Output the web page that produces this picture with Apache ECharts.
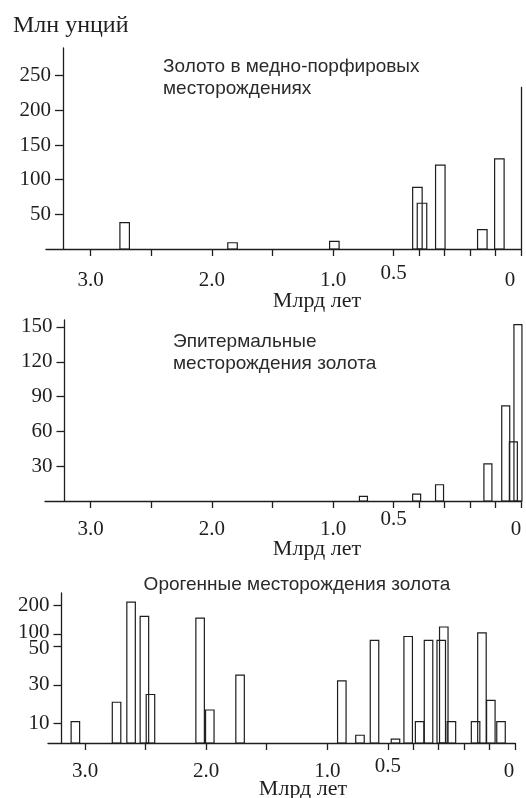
<!DOCTYPE html>
<html>
<head>
<meta charset="utf-8">
<script src="https://cdn.jsdelivr.net/npm/echarts@6/dist/echarts.min.js"></script>
<style>
  html, body { margin: 0; padding: 0; background: #fff; }
  #chart { width: 526px; height: 798px; }
</style>
</head>
<body>
<div id="chart"></div>
<script>
// Gold in porphyry copper deposits: age (Ga) and endowment (Moz)
const porphyryAges = [2.72, 1.83, 0.99, 0.407, 0.389, 0.317, 0.152, 0.085];
const porphyryMoz  = [38, 9, 11, 89, 66, 121, 28, 130];

// Epithermal gold deposits
const epithermalAges = [0.75, 0.41, 0.32, 0.13, 0.06, 0.03, 0.012];
const epithermalMoz  = [4, 6, 14, 32, 82, 51, 152];

// Orogenic gold deposits
const orogenicAges = [3.08, 2.74, 2.62, 2.51, 2.46, 2.05, 1.97, 1.72, 0.88, 0.73, 0.61,
                      0.47, 0.42, 0.375, 0.34, 0.29, 0.28, 0.25, 0.155, 0.13, 0.095, 0.055];
const orogenicMoz  = [11, 21, 210, 162, 25, 156, 17, 35, 32, 4, 75,
                      2, 92, 11, 75, 75, 126, 11, 11, 106, 22, 11];

// Axis ticks and labels
const ageTicks = [3.0, 2.5, 2.0, 1.5, 1.0, 0.5, 0.4, 0.3, 0.2, 0.1, 0];
const ageLabels = [3.0, 2.0, 1.0, 0];
const ageLabelsRaised = [0.5];
const porphyryTicks = [50, 100, 150, 200, 250];
const epithermalTicks = [30, 60, 90, 120, 150];
const orogenicTicks = [10, 30, 50, 100, 200];

const titles = [
  'Золото в медно-порфировых\nместорождениях',
  'Эпитермальные\nместорождения золота',
  'Орогенные месторождения золота'
];
const unitY = 'Млн унций';
const unitX = 'Млрд лет';

// The age axis is stretched for the last 0.5 Ga
const YOUNG = 2.1;
function ageToAxis(t) { return t <= 0.5 ? t * YOUNG : t - 0.5 + 0.5 * YOUNG; }
function axisToAge(d) { const b = 0.5 * YOUNG; return d <= b ? d / YOUNG : d - b + 0.5; }

// Orogenic panel: linear up to 50 Moz, compressed above
function ozToAxis(v) {
  if (v <= 50) return v;
  if (v <= 100) return 50 + (v - 50) * 0.116;
  return 55.8 + (v - 100) * 0.153;
}
function axisToOz(d) {
  if (d <= 50) return d;
  if (d <= 55.8) return 50 + (d - 50) / 0.116;
  return 100 + (d - 55.8) / 0.153;
}

const INK = '#1e1e1e';
const serif = "'Liberation Serif', 'Times New Roman', serif";
const sans = "'Liberation Sans', Arial, sans-serif";

function ageText(v) {
  const t = Math.round(axisToAge(v) * 10) / 10;
  return t === 0 ? '{z|0}' : '{n|' + t.toFixed(1) + '}';
}

const grids = [
  { left: 46, top: 48, width: 475, height: 201, outerBoundsMode: 'none' },
  { left: 45, top: 320, width: 476, height: 181, outerBoundsMode: 'none' },
  { left: 48, top: 593, width: 467, height: 150, outerBoundsMode: 'none' }
];
const xMax = [3.919, 3.927, 3.856];
const zeroShift = [22, 10, 12];
const labelMargin = [21, 18, 18];
const raisedMargin = [14, 8, 13];
const nameGap = [41, 37, 35];
const namePad = [67, 68, 43];
const yOffset = [-17, -19.5, -13.5];

const xAxes = [];
grids.forEach((g, i) => {
  xAxes.push({
    gridIndex: i, type: 'value', inverse: true, min: 0, max: xMax[i],
    axisLine: { show: true, onZero: false, lineStyle: { color: INK, width: 1.3 } },
    axisTick: { show: true, length: 7, customValues: ageTicks.map(ageToAxis),
                lineStyle: { color: INK, width: 1.3 } },
    axisLabel: {
      customValues: ageLabels.map(ageToAxis), margin: labelMargin[i],
      formatter: ageText,
      rich: {
        n: { fontFamily: serif, fontSize: 21, color: INK },
        z: { fontFamily: serif, fontSize: 21, color: INK, padding: [0, zeroShift[i], 0, 0] }
      }
    },
    splitLine: { show: false },
    name: unitX, nameLocation: 'middle', nameGap: nameGap[i], nameMoveOverlap: false,
    nameTextStyle: { fontFamily: serif, fontSize: 22, color: INK, padding: [0, 0, 0, namePad[i]] }
  });
  xAxes.push({
    gridIndex: i, type: 'value', inverse: true, min: 0, max: xMax[i], position: 'bottom',
    axisLine: { show: false, onZero: false }, axisTick: { show: false },
    axisLabel: {
      customValues: ageLabelsRaised.map(ageToAxis), margin: raisedMargin[i],
      formatter: v => (Math.round(axisToAge(v) * 10) / 10).toFixed(1),
      fontFamily: serif, fontSize: 21, color: INK
    },
    splitLine: { show: false }
  });
});

// Neighbouring 100 and 50 labels on the orogenic axis are nudged apart
function ozLabel(v) {
  const oz = Math.round(axisToOz(v));
  if (oz === 100) return '{up|100}';
  if (oz === 50) return '{dn|50}';
  return '{n|' + oz + '}';
}

const yTicks = [porphyryTicks, epithermalTicks, orogenicTicks.map(ozToAxis)];
const yMax = [290, 156, 77.3];
const yAxes = grids.map((g, i) => ({
  gridIndex: i, type: 'value', min: 0, max: yMax[i], offset: yOffset[i],
  axisLine: { show: true, onZero: false, lineStyle: { color: INK, width: 1.3 } },
  axisTick: { show: true, length: 8, customValues: yTicks[i], lineStyle: { color: INK, width: 1.3 } },
  axisLabel: {
    customValues: yTicks[i], margin: 12,
    formatter: v => i === 2 ? ozLabel(v) : String(v),
    fontFamily: serif, fontSize: 21, color: INK,
    rich: {
      n: { fontFamily: serif, fontSize: 21, color: INK },
      up: { fontFamily: serif, fontSize: 21, color: INK, padding: [0, 0, 5, 0] },
      dn: { fontFamily: serif, fontSize: 21, color: INK, padding: [6, 0, 0, 0] }
    }
  },
  splitLine: { show: false }
}));

const barWidth = [9.5, 8, 8.5];
function barSeries(i, ages, moz, yMap) {
  return {
    type: 'custom', xAxisIndex: i * 2, yAxisIndex: i,
    data: ages.map((t, k) => [ageToAxis(t), yMap(moz[k])]),
    renderItem: (params, api) => {
      const x = api.value(0), v = api.value(1);
      const base = api.coord([x, 0]);
      const top = api.coord([x, v]);
      const w = barWidth[i];
      return {
        type: 'rect',
        shape: { x: base[0] - w / 2, y: top[1], width: w, height: base[1] - top[1] },
        style: { fill: 'none', stroke: INK, lineWidth: 1.2 }
      };
    }
  };
}

const s0 = barSeries(0, porphyryAges, porphyryMoz, v => v);
s0.markLine = {
  silent: true, symbol: 'none', animation: false, label: { show: false },
  lineStyle: { color: INK, width: 1.3, type: 'solid' },
  data: [[{ coord: [0, 0] }, { coord: [0, 234] }]]
};

const titleStyle = { fontFamily: sans, fontSize: 19, lineHeight: 22, fontWeight: 'normal', color: '#2a2a2a' };
const option = {
  backgroundColor: '#fff',
  animation: false,
  title: [
    { text: unitY, left: 13, top: 14, padding: 0,
      textStyle: { fontFamily: serif, fontSize: 24, fontWeight: 'normal', color: INK } },
    { text: titles[0], left: 163, top: 56, padding: 0, textStyle: titleStyle },
    { text: titles[1], left: 173, top: 331, padding: 0, textStyle: titleStyle },
    { text: titles[2], left: 297, textAlign: 'center', top: 574, padding: 0, textStyle: titleStyle }
  ],
  grid: grids,
  xAxis: xAxes,
  yAxis: yAxes,
  series: [
    s0,
    barSeries(1, epithermalAges, epithermalMoz, v => v),
    barSeries(2, orogenicAges, orogenicMoz, ozToAxis)
  ]
};

const chart = echarts.init(document.getElementById('chart'), null, { renderer: 'canvas' });
chart.setOption(option);
</script>
</body>
</html>
